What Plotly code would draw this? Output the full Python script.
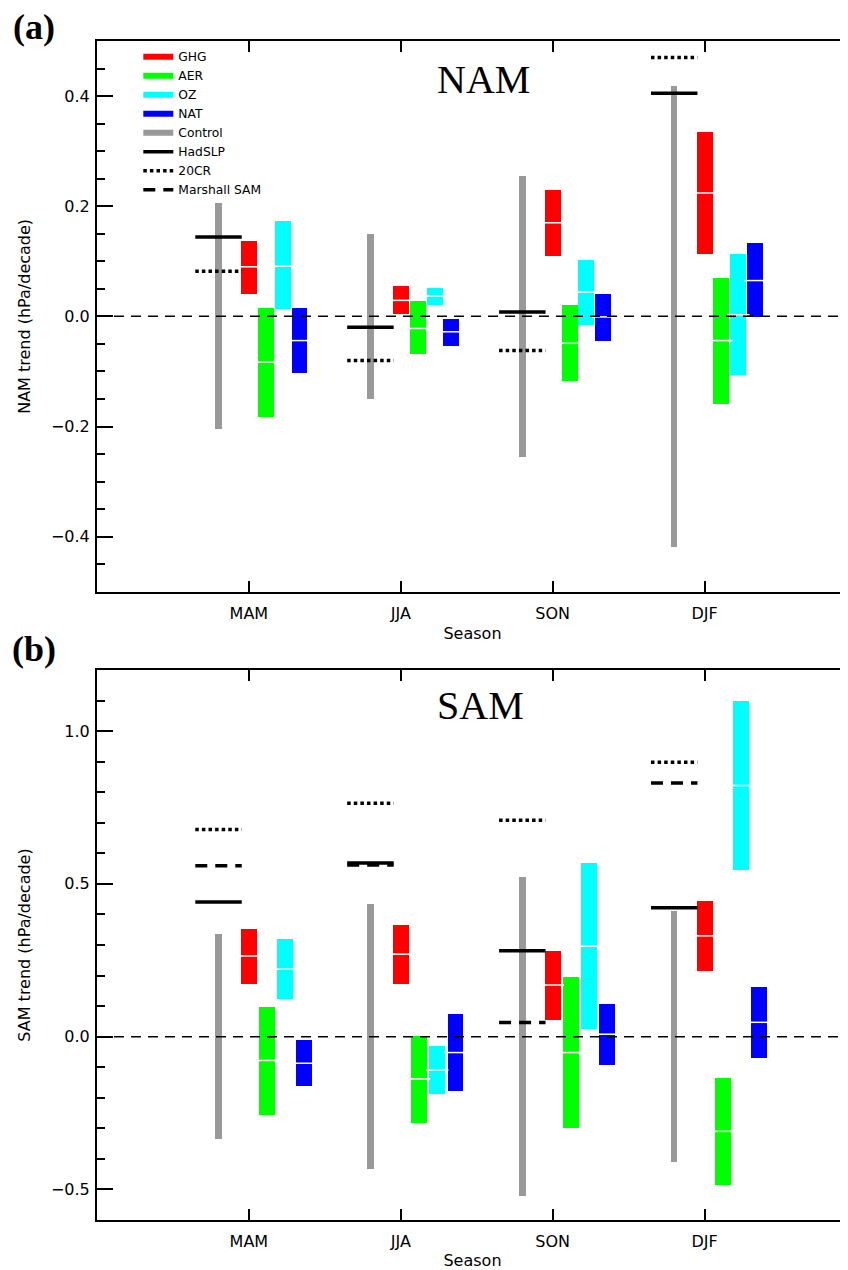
import plotly.graph_objects as go
from plotly.subplots import make_subplots

# ---------------- data ----------------
seasons = ["MAM", "JJA", "SON", "DJF"]
season_pos = [1, 2, 3, 4]
forcings = ["GHG", "AER", "OZ", "NAT"]

# NAM trends (hPa/decade): (low, median, high) per season
nam_ghg = [(0.041, 0.090, 0.136), (0.004, 0.029, 0.055), (0.109, 0.170, 0.230), (0.114, 0.224, 0.334)]
nam_aer = [(-0.183, -0.083, 0.015), (-0.069, -0.022, 0.027), (-0.117, -0.049, 0.021), (-0.159, -0.044, 0.070)]
nam_oz = [(0.013, 0.091, 0.173), (0.020, 0.037, 0.052), (-0.015, 0.044, 0.103), (-0.107, 0.003, 0.113)]
nam_nat = [(-0.102, -0.044, 0.016), (-0.053, -0.028, -0.005), (-0.045, -0.001, 0.041), (-0.001, 0.065, 0.134)]
nam_control = [0.205, 0.150, 0.255, 0.419]
nam_hadslp = [0.144, -0.020, 0.008, 0.405]
nam_20cr = [0.082, -0.080, -0.062, 0.470]

# SAM trends (hPa/decade)
sam_ghg = [(0.171, 0.264, 0.351), (0.173, 0.270, 0.367), (0.055, 0.169, 0.282), (0.215, 0.330, 0.443)]
sam_aer = [(-0.255, -0.078, 0.096), (-0.281, -0.138, 0.002), (-0.299, -0.052, 0.194), (-0.486, -0.310, -0.134)]
sam_oz = [(0.122, 0.221, 0.320), (-0.189, -0.109, -0.030), (0.024, 0.296, 0.567), (0.547, 0.822, 1.098)]
sam_nat = [(-0.160, -0.087, -0.011), (-0.179, -0.052, 0.074), (-0.092, 0.008, 0.107), (-0.069, 0.047, 0.161)]
sam_control = [0.335, 0.433, 0.521, 0.410]
sam_hadslp = [0.441, 0.568, 0.281, 0.422]
sam_20cr = [0.678, 0.764, 0.708, 0.898]
sam_marshall = [0.559, 0.562, 0.046, 0.830]

# ---------------- style ----------------
colors = {"GHG": "#ff0000", "AER": "#00ff00", "OZ": "#00ffff", "NAT": "#0000ff"}
gray = "#999999"
FONT = "DejaVu Sans"
box_w = 0.105
ctrl_off = -0.2
obs_half = 0.153
panel_offsets = {1: [0.0, 0.111, 0.222, 0.333], 2: [0.0, 0.12, 0.24, 0.36]}

fig = make_subplots(rows=2, cols=1)

# legend-only entries (thick line keys)
for name in forcings:
    fig.add_trace(go.Scatter(x=[None], y=[None], mode="lines", name=name,
                             line=dict(color=colors[name], width=6)), row=1, col=1)
fig.add_trace(go.Scatter(x=[None], y=[None], mode="lines", name="Control",
                         line=dict(color=gray, width=6)), row=1, col=1)


def seg(values, center_off):
    xs, ys = [], []
    for s, v in zip(season_pos, values):
        xs += [s + center_off - obs_half, s + center_off + obs_half, None]
        ys += [v, v, None]
    return xs, ys


def add_panel(row, boxes, control, obs):
    # control spread
    fig.add_trace(go.Bar(x=[s + ctrl_off for s in season_pos],
                         base=[-c for c in control], y=[2 * c for c in control],
                         width=0.043, marker=dict(color=gray, line=dict(width=0)),
                         showlegend=False, name="Control"), row=row, col=1)
    # observations
    for name, vals, dash in obs:
        xs, ys = seg(vals, ctrl_off)
        fig.add_trace(go.Scatter(x=xs, y=ys, mode="lines", name=name,
                                 legendgroup=name, showlegend=(row == 1) or (name == "Marshall SAM"),
                                 line=dict(color="black", width=3.5, dash=dash)), row=row, col=1)
    # forcing boxes
    for k, name in enumerate(forcings):
        data = boxes[name]
        xs = [s + panel_offsets[row][k] for s in season_pos]
        lo = [d[0] for d in data]
        md = [d[1] for d in data]
        hi = [d[2] for d in data]
        fig.add_trace(go.Bar(x=xs, base=lo, y=[h - l for h, l in zip(hi, lo)], width=box_w,
                             marker=dict(color=colors[name], line=dict(width=0)),
                             showlegend=False, name=name), row=row, col=1)
        fig.add_trace(go.Scatter(x=xs, y=md, mode="markers", showlegend=False, name=name,
                                 marker=dict(symbol="line-ew", size=16,
                                             line=dict(color="white", width=1.5))), row=row, col=1)


add_panel(1, {"GHG": nam_ghg, "AER": nam_aer, "OZ": nam_oz, "NAT": nam_nat}, nam_control,
          [("HadSLP", nam_hadslp, "solid"), ("20CR", nam_20cr, "3.5px,3.1px")])
add_panel(2, {"GHG": sam_ghg, "AER": sam_aer, "OZ": sam_oz, "NAT": sam_nat}, sam_control,
          [("HadSLP", sam_hadslp, "solid"), ("20CR", sam_20cr, "3.5px,3.1px"),
           ("Marshall SAM", sam_marshall, "12px,8px")])

# zero lines
for r in (1, 2):
    fig.add_hline(y=0, line=dict(color="black", width=1.5, dash="10px,7px"), row=r, col=1)

xaxis_common = dict(range=[0, 4.944], tickvals=season_pos, ticktext=seasons,
                    ticks="inside", ticklen=11, tickwidth=1.5, tickcolor="black",
                    showline=True, linewidth=2, linecolor="black", mirror="ticks",
                    showgrid=False, zeroline=False, ticklabelstandoff=6,
                    tickfont=dict(family=FONT, size=16, color="black"),
                    title=dict(text="Season", font=dict(family=FONT, size=16, color="black"), standoff=6))
yaxis_common = dict(ticks="inside", ticklen=16, tickwidth=1.5, tickcolor="black",
                    showline=True, linewidth=2, linecolor="black", mirror=False,
                    showgrid=False, zeroline=False, tickformat=".1f", tick0=0,
                    ticklabelstandoff=2,
                    tickfont=dict(family=FONT, size=16, color="black"))

fig.update_xaxes(**xaxis_common)
fig.update_yaxes(**yaxis_common)
fig.update_yaxes(range=[-0.5, 0.5], dtick=0.2, domain=[0.5329, 1.0],
                 minor=dict(ticks="inside", ticklen=8, tickwidth=1.5, tickcolor="black", dtick=0.05, showgrid=False),
                 title=dict(text="NAM trend (hPa/decade)", font=dict(family=FONT, size=16, color="black"), standoff=16),
                 row=1, col=1)
fig.update_yaxes(range=[-0.6, 1.2], dtick=0.5, domain=[0.0, 0.4665],
                 minor=dict(ticks="inside", ticklen=8, tickwidth=1.5, tickcolor="black", dtick=0.1, showgrid=False),
                 title=dict(text="SAM trend (hPa/decade)", font=dict(family=FONT, size=16, color="black"), standoff=16),
                 row=2, col=1)

annos = [
    dict(text="<b>(a)</b>", x=-0.084, y=1.0115, font=dict(family="Liberation Serif", size=36, color="black")),
    dict(text="<b>(b)</b>", x=-0.084, y=0.4845, font=dict(family="Liberation Serif", size=36, color="black")),
    dict(text="NAM", x=0.514, y=0.9675, font=dict(family="Liberation Serif", size=40, color="black")),
    dict(text="SAM", x=0.511, y=0.436, font=dict(family="Liberation Serif", size=40, color="black")),
]
for a in annos:
    fig.add_annotation(xref="paper", yref="paper", showarrow=False, xanchor="center", yanchor="middle", **a)

# the page body adds an 8px margin; size the figure so the plot frame lands where the reference has it
fig.update_layout(
    width=840, height=1262, autosize=False,
    margin=dict(l=89, r=0, t=33, b=50),
    paper_bgcolor="white", plot_bgcolor="white",
    barmode="overlay", bargap=0,
    font=dict(family=FONT, color="black"),
    legend=dict(x=0.055, y=0.999, xanchor="left", yanchor="top", bgcolor="rgba(0,0,0,0)",
                font=dict(family=FONT, size=12.3, color="black"), tracegroupgap=0),
)

fig.write_html("out.html")
